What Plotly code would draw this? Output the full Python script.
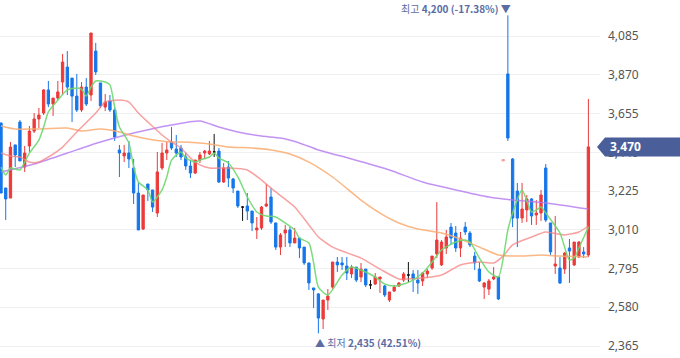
import plotly.graph_objects as go

# ---------------- data ----------------
opens = [3603, 3242, 3186, 3481, 3608, 3358, 3475, 3558, 3625, 3658,
         3786, 3708, 3741, 3830, 3913, 3852, 3752, 3675, 3802, 3758,
         4002, 3825, 3691, 3725, 3675, 3453, 3420, 3436, 3353, 3214,
         3014, 3264, 3231, 3103, 3353, 3436, 3497, 3458, 3464, 3414,
         3364, 3325, 3397, 3436, 3431, 3442, 3447, 3275, 3358, 3292,
         3225, 3136, 3142, 3114, 3009, 3020, 3142, 3192, 3048, 2914,
         2992, 3009, 2937, 2964, 2914, 2826, 2687, 2654, 2515, 2620,
         2692, 2831, 2826, 2809, 2765, 2803, 2748, 2792, 2704, 2709,
         2737, 2698, 2620, 2670, 2698, 2731, 2759, 2765, 2731, 2726,
         2765, 2798, 2876, 2815, 2909, 3025, 2992, 2909, 3025, 2992,
         2864, 2792, 2692, 2681, 2737, 2748, 3392, 3875, 3403, 3225,
         3075, 3120, 3181, 3092, 3103, 3353, 3048, 2809, 2798, 2792,
         2909, 2815, 2859, 2887, 2870]
highs = [3603, 3242, 3497, 3481, 3619, 3475, 3586, 3658, 3686, 3791,
         3836, 3741, 3836, 3986, 4002, 3852, 3875, 3830, 3852, 4102,
         4047, 3825, 3764, 3758, 3691, 3481, 3481, 3503, 3403, 3270,
         3203, 3264, 3231, 3442, 3492, 3497, 3580, 3536, 3481, 3436,
         3397, 3397, 3442, 3453, 3503, 3542, 3464, 3381, 3392, 3297,
         3225, 3142, 3214, 3114, 3081, 3142, 3264, 3242, 3048, 2992,
         3037, 3025, 3020, 2964, 2914, 2826, 2687, 2659, 2620, 2681,
         2831, 2859, 2859, 2859, 2815, 2803, 2826, 2792, 2731, 2770,
         2748, 2704, 2665, 2704, 2720, 2776, 2831, 2787, 2787, 2776,
         2792, 2864, 3164, 2953, 3009, 3048, 3031, 2998, 3053, 3003,
         2887, 2831, 2720, 2737, 2803, 2753, 3400, 4200, 3408, 3270,
         3270, 3203, 3186, 3175, 3231, 3375, 3048, 3087, 2859, 2887,
         2959, 2942, 2948, 2914, 3736]
lows = [3214, 3064, 3186, 3358, 3392, 3331, 3442, 3547, 3575, 3647,
        3691, 3642, 3730, 3758, 3758, 3608, 3664, 3664, 3697, 3725,
        3869, 3686, 3669, 3664, 3503, 3303, 3386, 3353, 3153, 3009,
        3009, 3170, 3109, 3081, 3342, 3397, 3453, 3414, 3397, 3342,
        3297, 3320, 3381, 3403, 3425, 3414, 3270, 3270, 3247, 3214,
        3131, 3059, 3064, 3003, 2959, 3009, 3136, 3042, 2898, 2870,
        2914, 2914, 2937, 2853, 2815, 2676, 2576, 2435, 2459, 2565,
        2681, 2776, 2787, 2731, 2742, 2720, 2720, 2692, 2681, 2704,
        2659, 2637, 2609, 2665, 2692, 2720, 2720, 2665, 2654, 2698,
        2742, 2787, 2853, 2809, 2876, 2926, 2887, 2859, 2981, 2914,
        2787, 2720, 2626, 2648, 2731, 2620, 3392, 3503, 3025, 2914,
        3048, 3053, 3037, 3037, 3059, 3053, 2870, 2765, 2709, 2765,
        2715, 2809, 2853, 2853, 2859]
closes = [3214, 3181, 3469, 3425, 3392, 3436, 3558, 3625, 3647, 3786,
          3708, 3741, 3775, 3941, 3802, 3752, 3675, 3802, 3708, 4102,
          3886, 3697, 3719, 3675, 3525, 3436, 3436, 3403, 3214, 3009,
          3203, 3231, 3136, 3331, 3436, 3453, 3464, 3436, 3414, 3364,
          3325, 3397, 3425, 3447, 3447, 3442, 3275, 3353, 3297, 3242,
          3142, 3136, 3114, 3048, 3020, 3136, 3153, 3053, 2914, 2981,
          3009, 2937, 2964, 2909, 2826, 2715, 2676, 2520, 2620, 2642,
          2831, 2815, 2815, 2770, 2803, 2731, 2792, 2704, 2704, 2748,
          2748, 2648, 2665, 2692, 2715, 2765, 2759, 2737, 2715, 2770,
          2781, 2864, 2953, 2942, 2970, 2964, 2909, 2964, 2998, 2926,
          2826, 2726, 2715, 2726, 2748, 2626, 3400, 3519, 3075, 3075,
          3125, 3181, 3087, 3103, 3203, 3064, 2887, 2820, 2715, 2881,
          2892, 2942, 2942, 2876, 3470]
doji_idx = [45, 51, 78, 86]      # unchanged days drawn in black
halt_idx = [106]                 # faint pink day

ma5_x = [0, 1, 2, 4, 5, 6, 8, 9, 10, 12, 14, 16, 17, 18, 19, 20, 22, 23, 24, 25,
         27, 28, 29, 31, 32, 34, 35, 36, 38, 39, 41, 42, 44, 45, 46, 48, 50, 52, 54, 56,
         58, 60, 62, 63, 65, 66, 67, 69, 72, 74, 76, 79, 81, 83, 85, 87, 89, 91, 93, 96,
         98, 99, 101, 103, 105, 107, 108, 110, 112, 113, 114, 115, 118, 120, 121, 122, 124]
ma5 = [3358, 3314, 3353, 3342, 3386, 3436, 3508, 3580, 3664, 3730, 3786, 3797, 3791, 3752, 3802, 3836, 3830, 3814, 3691, 3580,
       3492, 3358, 3275, 3231, 3164, 3231, 3303, 3397, 3442, 3408, 3386, 3397, 3414, 3436, 3408, 3381, 3303, 3192, 3109, 3087,
       3081, 3048, 3009, 2964, 2937, 2826, 2692, 2648, 2759, 2803, 2787, 2748, 2709, 2698, 2709, 2731, 2770, 2831, 2898, 2942,
       2953, 2942, 2853, 2776, 2748, 3009, 3103, 3231, 3109, 3120, 3136, 3103, 2992, 2842, 2853, 2909, 3025]

ma20_x = [0, 2, 4, 6, 8, 10, 13, 16, 20, 22, 25, 27, 29, 31, 34, 36, 38, 40, 42, 44,
          48, 52, 55, 58, 62, 65, 67, 70, 72, 76, 80, 84, 86, 89, 93, 97, 101, 104, 106, 108,
          112, 115, 119, 122, 124]
ma20 = [3436, 3419, 3414, 3386, 3386, 3414, 3469, 3553, 3658, 3719, 3730, 3719, 3658, 3608, 3536, 3497, 3464, 3408, 3370, 3353,
        3353, 3342, 3286, 3220, 3136, 3037, 2970, 2914, 2892, 2853, 2792, 2737, 2737, 2742, 2759, 2815, 2831, 2826, 2864, 2926,
        2970, 2998, 2981, 2998, 3031]

ma60_x = [0, 3, 7, 14, 17, 21, 25, 28, 31, 36, 38, 44, 48, 53, 57, 61, 65, 70, 76, 80,
          84, 88, 93, 97, 101, 105, 110, 114, 118, 124]
ma60 = [3586, 3569, 3569, 3575, 3558, 3569, 3553, 3530, 3514, 3497, 3497, 3486, 3469, 3464, 3453, 3431, 3386, 3303, 3175, 3103,
        3048, 3014, 2992, 2959, 2914, 2870, 2864, 2870, 2864, 2859]

ma120_x = [0, 7, 14, 21, 28, 36, 42, 46, 50, 55, 59, 63, 67, 74, 82, 89, 96, 103, 108, 115, 124]
ma120 = [3331, 3375, 3436, 3497, 3547, 3592, 3614, 3580, 3553, 3530, 3519, 3492, 3453, 3403, 3342, 3275, 3231, 3192, 3175, 3159, 3125]

y_ticks = [2365, 2580, 2795, 3010, 3225, 3440, 3655, 3870, 4085]
last_price = 3470
high_idx, high_price, high_pct = 107, 4200, "-17.38%"
low_idx, low_price, low_pct = 67, 2435, "42.51%"

# ---------------- styling ----------------
RED = "#EC3A3A"
BLUE = "#1676EA"
Y_RANGE = [2298.4, 4285.3]
X_RANGE = [-0.21, 126.45]
PLOT_W, H = 600, 358

special = set(doji_idx) | set(halt_idx)
main_idx = [i for i in range(len(closes)) if i not in special]

fig = go.Figure()

for xs, ys, col in [(ma120_x, ma120, "rgba(180,120,240,0.8)"),
                    (ma60_x, ma60, "rgba(250,170,110,0.85)"),
                    (ma20_x, ma20, "rgba(245,130,130,0.75)"),
                    (ma5_x, ma5, "rgba(110,215,110,0.9)")]:
    fig.add_trace(go.Scatter(x=xs, y=ys, mode="lines",
                             line=dict(color=col, width=1.5, shape="spline", smoothing=0.6),
                             hoverinfo="skip", showlegend=False))

def candle(idx, inc, dec):
    return go.Candlestick(
        x=idx,
        open=[opens[i] for i in idx], high=[highs[i] for i in idx],
        low=[lows[i] for i in idx], close=[closes[i] for i in idx],
        increasing=dict(line=dict(color=inc, width=1), fillcolor=inc),
        decreasing=dict(line=dict(color=dec, width=1), fillcolor=dec),
        showlegend=False, whiskerwidth=0)

fig.add_trace(candle(main_idx, RED, BLUE))
fig.add_trace(candle(doji_idx, "#111111", "#111111"))
fig.add_trace(candle(halt_idx, "#F4A3A3", "#F4A3A3"))

# current price tag
def to_paper(v):
    return (v - Y_RANGE[0]) / (Y_RANGE[1] - Y_RANGE[0])

py = to_paper(last_price)
hh = 9.5 / H
xt, xb, xr = 597 / PLOT_W, 605 / PLOT_W, 680 / PLOT_W
fig.add_shape(type="path", xref="paper", yref="paper", layer="above",
              path=f"M {xt},{py} L {xb},{py + hh} L {xr},{py + hh} L {xr},{py - hh} L {xb},{py - hh} Z",
              fillcolor="#4A5E9A", line=dict(width=0))
fig.add_annotation(xref="paper", yref="paper", x=608 / PLOT_W, y=py, xanchor="left", yanchor="middle",
                   text=f"<b>{last_price:,}</b>", showarrow=False,
                   font=dict(color="white", size=12, family="Noto Sans"))

ANN = "#5B6CA3"
fig.add_annotation(x=high_idx, xref="x", y=1, yref="paper", xanchor="right", yanchor="top", xshift=5, yshift=1,
                   text=f"최고 <b>{high_price:,} ({high_pct})</b> ▼", showarrow=False,
                   font=dict(color=ANN, size=10, family="Noto Sans CJK KR"))
fig.add_annotation(x=low_idx, y=low_price, xanchor="left", yanchor="top", xshift=-5, yshift=0,
                   text=f"▲ 최저 <b>{low_price:,} ({low_pct})</b>", showarrow=False,
                   font=dict(color=ANN, size=10, family="Noto Sans CJK KR"))

fig.update_layout(
    width=680, height=358,
    margin=dict(l=0, r=80, t=0, b=0, autoexpand=False),
    paper_bgcolor="white", plot_bgcolor="white",
    showlegend=False,
    xaxis=dict(range=X_RANGE, autorange=False, visible=False, showgrid=False,
               rangeslider=dict(visible=False), fixedrange=True),
    yaxis=dict(range=Y_RANGE, autorange=False, side="right", tickvals=y_ticks,
               ticktext=[f"{v:,}" for v in y_ticks],
               showgrid=True, gridcolor="#EEF0F3", gridwidth=1, zeroline=False, showline=False,
               ticks="", ticklabelstandoff=7, fixedrange=True,
               tickfont=dict(color="#555555", size=12, family="Noto Sans")),
)

fig.write_html("out.html",
               config={"displayModeBar": False, "staticPlot": True},
               post_script="document.body.style.margin='0';document.body.style.overflow='hidden';")
